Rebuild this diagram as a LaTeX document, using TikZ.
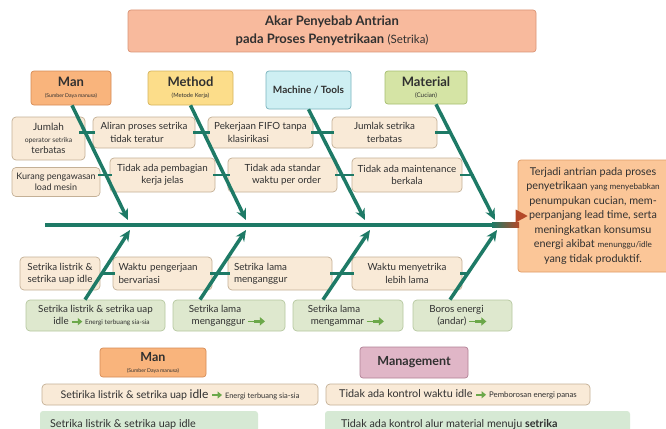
\documentclass[tikz,border=0pt]{standalone}
\usepackage{fontspec}
\setmainfont{Lato}
\usetikzlibrary{arrows.meta}

\definecolor{bone}{RGB}{30,122,102}
\definecolor{txt}{RGB}{48,48,48}
\definecolor{causefill}{RGB}{249,234,215}
\definecolor{causeline}{RGB}{196,176,150}
\definecolor{greenfill}{RGB}{222,232,206}
\definecolor{greenline}{RGB}{182,200,160}
\definecolor{mintfill}{RGB}{214,233,212}
\definecolor{titlefill}{RGB}{248,186,157}
\definecolor{titleline}{RGB}{218,148,118}
\definecolor{manfill}{RGB}{249,180,124}
\definecolor{manline}{RGB}{214,140,86}
\definecolor{methfill}{RGB}{252,221,138}
\definecolor{methline}{RGB}{214,180,92}
\definecolor{machfill}{RGB}{206,239,243}
\definecolor{machline}{RGB}{122,180,190}
\definecolor{matfill}{RGB}{213,228,165}
\definecolor{matline}{RGB}{166,190,112}
\definecolor{mgmtfill}{RGB}{224,182,199}
\definecolor{mgmtline}{RGB}{178,130,150}
\definecolor{effill}{RGB}{251,198,152}
\definecolor{efline}{RGB}{224,156,102}
\definecolor{spinehead}{RGB}{180,72,40}
\definecolor{garrowc}{RGB}{108,168,74}

\newcommand{\fs}[2]{\fontsize{#1}{#2}\selectfont}
% small green arrow used inside text
\newcommand{\garr}{\tikz[baseline=-0.6ex]\draw[garrowc,line width=2.2pt,-{Triangle[length=4.5pt,width=7pt]}] (0pt,0pt) -- (10pt,0pt);}
% longer green arrow with a thin tail
\newcommand{\garrl}{\tikz[baseline=-0.6ex]{\draw[garrowc,line width=0.8pt] (0pt,0pt) -- (7pt,0pt);
  \draw[garrowc,line width=2.6pt,-{Triangle[length=5pt,width=8pt]}] (6pt,0pt) -- (17pt,0pt);}}

\begin{document}
\begin{tikzpicture}[x=1pt,y=-1pt,
  box/.style={draw=causeline,fill=causefill,rounded corners=4pt,line width=0.7pt,
    inner sep=0pt,align=center,text=txt,font=\fs{9.8}{12.2}},
  gbox/.style={box,draw=greenline,fill=greenfill},
  cat/.style={draw,rounded corners=3pt,line width=0.7pt,inner sep=0pt,align=center,text=txt},
  bonel/.style={draw=bone,line width=3.5pt,-{Stealth[length=11pt,width=10pt]}},
  twig/.style={draw=bone,line width=2.8pt},
]
\useasboundingbox (0,0) rectangle (666,428);
\clip (0,0) rectangle (666,428);
\fill[white] (0,0) rectangle (666,428);

% title
\node[cat,draw=titleline,fill=titlefill,minimum width=408,minimum height=42,font=\fs{13}{18}]
  (title) at (332,31) {\textbf{Akar Penyebab Antrian}\\\textbf{pada Proses Penyetrikaan} {\fs{11.5}{18}(Setrika)}};

% categories
\node[cat,draw=manline,fill=manfill,minimum width=80,minimum height=34] (man) at (71,88)
  {{\fs{13}{14}\bfseries Man}\\[-1pt]{\fs{5.2}{6}(Sumber Daya manusa)}};
\node[cat,draw=methline,fill=methfill,minimum width=85,minimum height=34] (meth) at (190.5,88)
  {{\fs{13}{14}\bfseries Method}\\[-1pt]{\fs{5.8}{6.5}(Metode Kerja)}};
\node[cat,draw=machline,fill=machfill,minimum width=85,minimum height=38] (mach) at (308.5,90)
  {{\fs{10}{11}\bfseries Machine / Tools}};
\node[cat,draw=matline,fill=matfill,minimum width=82,minimum height=33] (mat) at (426,87.5)
  {{\fs{13}{14}\bfseries Material}\\[-1pt]{\fs{6.3}{7}(Cucian)}};

% upper causes
\node[box,minimum width=73,minimum height=43] (jml) at (48.5,138.5)
  {{\fs{10}{12}Jumlah}\\[-1pt]{\fs{6.8}{8.5}operator setrika}\\[-1pt]{\fs{9.5}{11}terbatas}};
\node[box,minimum width=102,minimum height=31] (alir) at (144,132.5) {Aliran proses setrika\\tidak teratur\hspace*{14pt}};
\node[box,minimum width=105,minimum height=31] (fifo) at (260.5,132.5) {Pekerjaan FIFO tanpa\\klasirikasi\hspace*{24pt}};
\node[box,minimum width=105,minimum height=31] (jlk) at (384.5,132.5) {Jumlak setrika\\terbatas};
\node[box,minimum width=88,minimum height=29,font=\fs{9}{11.5}] (krg) at (56,182) {Kurang pengawasan\\load mesin};
\node[box,minimum width=105,minimum height=34] (pmb) at (162.5,175) {Tidak ada pembagian\\kerja jelas};
\node[box,minimum width=109,minimum height=34] (std) at (282.5,175) {Tidak ada standar\\\hspace*{8pt}waktu per order};
\node[box,minimum width=110,minimum height=34] (mnt) at (407,175) {Tidak ada maintenance\\berkala};

% lower causes
\node[box,minimum width=80,minimum height=33] (sli) at (60,273.5) {Setrika listrik \&\\setrika uap idle};
\node[box,minimum width=99,minimum height=33,align=left,text width=88] (wpk) at (162.5,273.5) {Waktu pengerjaan\\bervariasi};
\node[box,minimum width=104,minimum height=33,align=left,text width=92] (slm) at (280,273.5) {Setrika lama\\menganggur};
\node[box,minimum width=110,minimum height=33] (wml) at (407,273.5) {Waktu menyetrika\\lebih lama};

% consequences
\node[gbox,minimum width=139,minimum height=31] (g1) at (95.5,315.5)
  {Setrika listrik \& setrika uap\\\hspace*{12pt}idle \garr{\fs{6.5}{8} Energi terbuang sia-sia}};
\node[gbox,minimum width=112,minimum height=31] (g2) at (229,315.5)
  {Setrika lama\hspace*{28pt}\\menganggur \garrl};
\node[gbox,minimum width=110,minimum height=31] (g3) at (348,315.5)
  {Setrika lama\hspace*{28pt}\\mengammar \garrl};
\node[gbox,minimum width=99,minimum height=31] (g4) at (462.5,315.5)
  {Boros energi\hspace*{12pt}\\(andar) \garrl};

% effect
\node[cat,draw=efline,fill=effill,minimum width=162,minimum height=112] (eff) at (599,216) {};
\node[align=center,text=txt,font=\fs{10.8}{14.5}] (efftxt) at (593,216)
  {Terjadi antrian pada proses\\
   penyetrikaan {\fs{8.2}{14.5}yang menyebabkan}\\
   penumpukan cucian, mem-\\
   perpanjang lead time, serta\\
   meningkatkan konsumsu\\
   energi akibat {\fs{8.2}{14.5}menunggu/idle}\\
   yang tidak produktif.};

% spine
\coordinate (sp0) at (45,225);
\coordinate (sp1) at (494,225);
\draw[bone,line width=4.5pt] (sp0) -- (sp1);
\shade[left color=bone,right color=spinehead] (492,222.75) rectangle (519,227.25);
\fill[spinehead] ([xshift=-2]eff.west) ++(0,-6.5) -- ++(12,6.5) -- ++(-12,6.5) -- cycle;

% upper bones
\coordinate (t1) at (128,220);
\coordinate (t2) at (246,220);
\coordinate (t3) at (365,220);
\coordinate (t4) at (495,220);
\draw[bonel] ([xshift=1]man.south) -- (t1);
\draw[bonel] (meth.south) -- (t2);
\draw[bonel] (mach.south) -- (t3);
\draw[bonel] ([xshift=10]mat.south) -- (t4);

% lower bones
\coordinate (u1) at (130,230);
\coordinate (u2) at (246,230);
\coordinate (u3) at (370,230);
\coordinate (u4) at (497,230);
\draw[bonel] ([xshift=-10.5]g1.north) -- (u1);
\draw[bonel] ([xshift=-29]g2.north) -- (u2);
\draw[bonel] ([xshift=-25]g3.north) -- (u3);
\draw[bonel] ([xshift=-12.5]g4.north) -- (u4);

% twigs
\draw[twig] ([xshift=2]alir.west) -- ++(-16,0);
\draw[twig] ([xshift=2]fifo.west) -- ([xshift=-2]alir.east);
\draw[twig] ([xshift=2]jlk.west) -- ([xshift=-2]fifo.east);
\draw[twig] ([xshift=-2]jlk.east) -- ++(16,0);
\draw[twig] ([xshift=2]pmb.west) -- ([xshift=-2]krg.east |- pmb.west);
\draw[twig] ([xshift=2]std.west) -- ([xshift=-2]pmb.east);
\draw[twig] ([xshift=2]mnt.west) -- ([xshift=-2]std.east);
\draw[twig] ([xshift=-2]mnt.east) -- ++(14,0);
\draw[twig] ([xshift=2]wpk.west) -- ++(-14,0);
\draw[twig] ([xshift=2]slm.west) -- ([xshift=-2]wpk.east);
\draw[twig] ([xshift=2]wml.west) -- ([xshift=-2]slm.east);
\draw[twig] ([xshift=-2]wml.east) -- ++(9,0);

% summary section
\node[cat,draw=manline,fill=manfill,minimum width=106,minimum height=29] (man2) at (153,362.5)
  {{\fs{12.5}{13}\bfseries Man}\\[-1pt]{\fs{5.2}{6}(Sumber Daya manusa)}};
\node[cat,draw=mgmtline,fill=mgmtfill,minimum width=108,minimum height=31] (mgmt) at (414,362.5)
  {{\fs{12.5}{13}\bfseries Management}};
\node[box,minimum width=276,minimum height=21] (s1) at (180,394.5)
  {{\fs{10.6}{12}Setirika listrik \& setrika uap} {\fs{12}{13}idle} \garr{\fs{7.5}{8} Energi terbuang sia-sia}};
\node[box,minimum width=264,minimum height=21] (s2) at (458,394.5)
  {{\fs{10.8}{12}Tidak ada kontrol waktu idle} \garr{\fs{7.8}{8} Pemborosan energi panas}};
\node[fill=mintfill,rounded corners=3pt,minimum width=218,minimum height=22,inner sep=0pt] (m1) at (149,422) {};
\node[anchor=west,text=txt,font=\fs{10.8}{12},inner sep=0pt] at ([xshift=10,yshift=-2]m1.west)
  {Setrika listrik \& setrika uap idle};
\node[fill=mintfill,rounded corners=3pt,minimum width=305,minimum height=22,inner sep=0pt] (m2) at (477.5,422) {};
\node[anchor=west,text=txt,font=\fs{10.8}{12},inner sep=0pt] at ([xshift=16,yshift=-2]m2.west)
  {Tidak ada kontrol alur material menuju \textbf{setrika}};
\end{tikzpicture}
\end{document}
